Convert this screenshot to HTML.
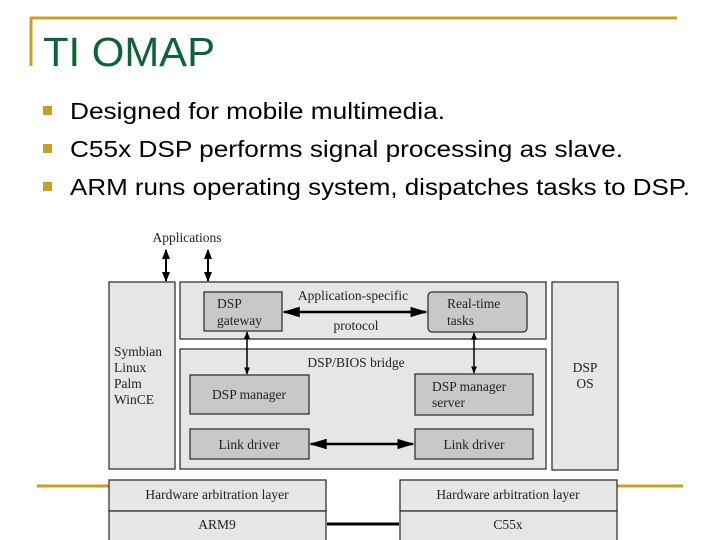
<!DOCTYPE html>
<html><head><meta charset="utf-8"><style>
html,body{margin:0;padding:0;background:#fff;width:720px;height:540px;overflow:hidden}
</style></head><body>
<svg width="720" height="540" viewBox="0 0 720 540" xmlns="http://www.w3.org/2000/svg">
<defs>
<marker id="a" viewBox="0 0 10 10" refX="9" refY="5" markerWidth="5" markerHeight="5" orient="auto-start-reverse"><path d="M0,1 L10,5 L0,9 z" fill="#000"/></marker>
<marker id="b" viewBox="0 0 10 10" refX="9" refY="5" markerWidth="7" markerHeight="7" orient="auto-start-reverse"><path d="M0,2 L10,5 L0,8 z" fill="#000"/></marker>
</defs>
<line x1="30" y1="18" x2="677" y2="18" stroke="#c8a020" stroke-width="3"/>
<line x1="31" y1="17" x2="31" y2="66" stroke="#c8a020" stroke-width="3"/>
<text x="43" y="66" font-family="Liberation Sans, sans-serif" font-size="41" fill="#0b6336" textLength="172" lengthAdjust="spacingAndGlyphs">TI OMAP</text>
<g fill="#c8a020"><rect x="43" y="106" width="9" height="9"/><rect x="43" y="144" width="9" height="9"/><rect x="43" y="182" width="9" height="9"/></g>
<g font-family="Liberation Sans, sans-serif" font-size="23" fill="#000">
<text x="70" y="119" textLength="375" lengthAdjust="spacingAndGlyphs">Designed for mobile multimedia.</text>
<text x="70" y="157" textLength="553" lengthAdjust="spacingAndGlyphs">C55x DSP performs signal processing as slave.</text>
<text x="70" y="195" textLength="620" lengthAdjust="spacingAndGlyphs">ARM runs operating system, dispatches tasks to DSP.</text>
</g>
<line x1="37" y1="486" x2="110" y2="486" stroke="#c8a020" stroke-width="3"/>
<line x1="617" y1="486" x2="683" y2="486" stroke="#c8a020" stroke-width="3"/>
<g stroke="#333" stroke-width="1.3">
<rect x="109" y="282" width="66" height="187" fill="#e6e6e6"/>
<rect x="180" y="282" width="366" height="57" fill="#e6e6e6"/>
<rect x="180" y="349" width="366" height="120" fill="#e6e6e6"/>
<rect x="552" y="282" width="66" height="188" fill="#e6e6e6"/>
<rect x="204" y="292" width="78" height="39" fill="#c8c8c8"/>
<rect x="428" y="292" width="99" height="40" rx="4" fill="#c8c8c8"/>
<rect x="190" y="375" width="119" height="39" fill="#c8c8c8"/>
<rect x="415" y="374" width="118" height="41" fill="#c8c8c8"/>
<rect x="190" y="429" width="119" height="30" fill="#c8c8c8"/>
<rect x="415" y="429" width="118" height="30" fill="#c8c8c8"/>
<rect x="109" y="480" width="217" height="31" fill="#e6e6e6"/>
<rect x="109" y="511" width="217" height="31" fill="#e6e6e6"/>
<rect x="400" y="480" width="217" height="31" fill="#e6e6e6"/>
<rect x="400" y="511" width="217" height="31" fill="#e6e6e6"/>
</g>
<line x1="327" y1="524" x2="399" y2="524" stroke="#000" stroke-width="3"/>
<g stroke="#000" stroke-width="1.5" fill="none">
<line x1="166" y1="250" x2="166" y2="281" marker-start="url(#a)" marker-end="url(#a)" stroke-width="2"/>
<line x1="208" y1="250" x2="208" y2="281" marker-start="url(#a)" marker-end="url(#a)" stroke-width="2"/>
<line x1="247" y1="332" x2="247" y2="374" marker-start="url(#a)" marker-end="url(#a)" stroke-width="1.5"/>
<line x1="474" y1="333" x2="474" y2="373" marker-start="url(#a)" marker-end="url(#a)" stroke-width="1.5"/>
<line x1="284" y1="312" x2="426" y2="312" marker-start="url(#b)" marker-end="url(#b)" stroke-width="2.5"/>
<line x1="311" y1="444" x2="413" y2="444" marker-start="url(#b)" marker-end="url(#b)" stroke-width="2.5"/>
</g>
<g font-family="Liberation Serif, serif" font-size="13.5" fill="#222">
<text x="187" y="242" text-anchor="middle">Applications</text>
<text x="114" y="356">Symbian</text><text x="114" y="372">Linux</text><text x="114" y="388">Palm</text><text x="114" y="404">WinCE</text>
<text x="217" y="308">DSP</text><text x="217" y="325">gateway</text>
<text x="353" y="300" text-anchor="middle">Application-specific</text>
<text x="356" y="330" text-anchor="middle">protocol</text>
<text x="447" y="308">Real-time</text><text x="447" y="325">tasks</text>
<text x="356" y="367" text-anchor="middle">DSP/BIOS bridge</text>
<text x="249" y="399" text-anchor="middle">DSP manager</text>
<text x="432" y="391">DSP manager</text><text x="432" y="407">server</text>
<text x="249" y="449" text-anchor="middle">Link driver</text>
<text x="474" y="449" text-anchor="middle">Link driver</text>
<text x="585" y="372" text-anchor="middle">DSP</text><text x="585" y="388" text-anchor="middle">OS</text>
<text x="217" y="499" text-anchor="middle">Hardware arbitration layer</text>
<text x="217" y="529" text-anchor="middle">ARM9</text>
<text x="508" y="499" text-anchor="middle">Hardware arbitration layer</text>
<text x="508" y="529" text-anchor="middle">C55x</text>
</g>
</svg>
</body></html>
